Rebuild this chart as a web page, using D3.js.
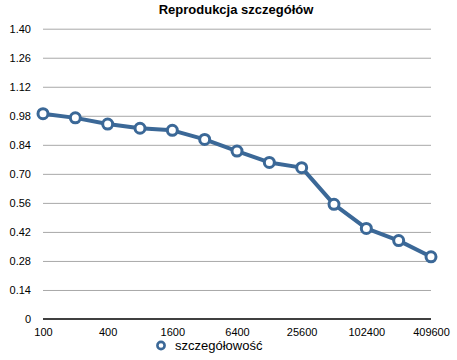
<!DOCTYPE html>
<html>
<head>
<meta charset="utf-8">
<script src="https://cdn.jsdelivr.net/npm/d3@7"></script>
<style>
html, body { margin: 0; padding: 0; background: #fff; }
svg { display: block; font-family: "Liberation Sans", Arial, Helvetica, sans-serif; }
</style>
</head>
<body>
<svg id="chart" width="457" height="360"></svg>
<script>
const title = "Reprodukcja szczegółów";
const seriesName = "szczegółowość";
const categories = ["100","200","400","800","1600","3200","6400","12800","25600","51200","102400","204800","409600"];
const values = [0.99, 0.97, 0.94, 0.92, 0.91, 0.866, 0.81, 0.755, 0.73, 0.553, 0.437, 0.378, 0.30];
const yTicks = [0, 0.14, 0.28, 0.42, 0.56, 0.70, 0.84, 0.98, 1.12, 1.26, 1.40];
const shownXLabels = ["100","400","1600","6400","25600","102400","409600"];

const color = "#3b6897";
const svg = d3.select("#chart");

const x = d3.scalePoint().domain(categories).range([43, 431]);
const y = d3.scaleLinear().domain([0, 1.4]).range([319, 28.7]);

// title
svg.append("text")
  .attr("x", 236).attr("y", 14)
  .attr("text-anchor", "middle")
  .attr("font-size", 13).attr("font-weight", "bold")
  .attr("fill", "#000")
  .text(title);

// grid lines
const yAxis = d3.axisLeft(y).tickValues(yTicks)
  .tickSize(-(431 - 43))
  .tickPadding(12)
  .tickFormat(d => d === 0 ? "0" : d3.format(".2f")(d));
const gy = svg.append("g").attr("transform", "translate(43,0)").call(yAxis);
gy.select(".domain").remove();
gy.selectAll(".tick line").attr("stroke", "#a8a8a8").attr("stroke-width", 1)
  .attr("stroke-opacity", d => d === 0 ? 0 : 1);
gy.selectAll(".tick text").attr("font-size", 11).attr("fill", "#000")
  .attr("font-family", "'Liberation Sans', Arial, sans-serif");

// x axis
const xAxis = d3.axisBottom(x).tickSize(0).tickPadding(9)
  .tickFormat(d => shownXLabels.includes(d) ? d : "");
const gx = svg.append("g").attr("transform", "translate(0,319)").call(xAxis);
gx.select(".domain").attr("stroke", "#000").attr("stroke-width", 1.5)
  .attr("d", "M43,0H431");
gx.selectAll(".tick text").attr("font-size", 11).attr("fill", "#000")
  .attr("font-family", "'Liberation Sans', Arial, sans-serif");

// line
const line = d3.line().x((d, i) => x(categories[i])).y(d => y(d));
svg.append("path").datum(values)
  .attr("d", line)
  .attr("fill", "none")
  .attr("stroke", color)
  .attr("stroke-width", 4)
  .attr("stroke-linejoin", "round");

svg.selectAll("circle.pt").data(values).enter().append("circle")
  .attr("class", "pt")
  .attr("cx", (d, i) => x(categories[i]))
  .attr("cy", d => y(d))
  .attr("r", 5)
  .attr("fill", "#fff")
  .attr("stroke", color)
  .attr("stroke-width", 3);

// legend
const lg = svg.append("g");
lg.append("circle").attr("cx", 161).attr("cy", 345.5).attr("r", 3.6)
  .attr("fill", "#fff").attr("stroke", color).attr("stroke-width", 2.6);
lg.append("text").attr("x", 175).attr("y", 350)
  .attr("font-size", 13).attr("fill", "#000")
  .text(seriesName);
</script>
</body>
</html>
